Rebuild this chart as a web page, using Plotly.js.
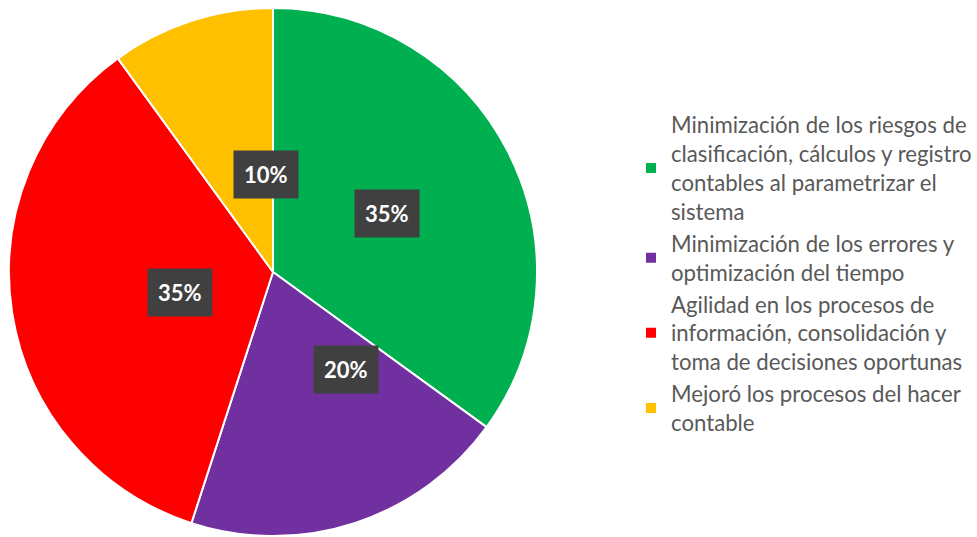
<!DOCTYPE html>
<html>
<head>
<meta charset="utf-8">
<script src="https://cdn.plot.ly/plotly-3.0.1.min.js"></script>
<style>html,body{margin:0;padding:0;background:#fff;}#chart{width:977px;height:537px;}</style>
</head>
<body>
<div id="chart"></div>
<script>
const categories = [
  "Minimización de los riesgos de<br>clasificación, cálculos y registro<br>contables al parametrizar el<br>sistema",
  "Minimización de los errores y<br>optimización del tiempo",
  "Agilidad en los procesos de<br>información, consolidación y<br>toma de decisiones oportunas",
  "Mejoró los procesos del hacer<br>contable"
];
const values = [35, 20, 35, 10];
const labelsText = ["35%", "20%", "35%", "10%"];
const colors = ["#00B050", "#7030A0", "#FF0000", "#FFC000"];

const W = 977, H = 537;
const cx = 273, cy = 272, R = 264;
const domX = [(cx - R) / W, (cx + R) / W];
const domY = [(H - cy - R) / H, (H - cy + R) / H];

const total = values.reduce((a, b) => a + b, 0);
let cum = 0;
const annotations = values.map((v, i) => {
  const mid = (cum + v / 2) / total * 2 * Math.PI;
  cum += v;
  const d = 0.485 * R;
  const px = cx + d * Math.sin(mid);
  const py = cy - d * Math.cos(mid);
  return {
    x: px / W, y: 1 - py / H, xref: "paper", yref: "paper",
    text: "<b>" + labelsText[i] + "</b>", showarrow: false,
    font: {family: "Lato, 'Open Sans', sans-serif", size: 22, color: "#ffffff"},
    bgcolor: "#404040", borderpad: 10
  };
});

const data = [{
  type: "pie",
  labels: categories,
  values: values,
  sort: false,
  direction: "clockwise",
  rotation: 0,
  marker: {colors: colors, line: {color: "#ffffff", width: 2}},
  textinfo: "none",
  domain: {x: domX, y: domY},
  hoverinfo: "label+percent"
}];

const layout = {
  width: W, height: H,
  margin: {l: 0, r: 0, t: 0, b: 0},
  paper_bgcolor: "#ffffff",
  showlegend: true,
  legend: {
    x: 631 / W, xanchor: "left",
    y: 0.49, yanchor: "middle",
    font: {family: "Lato, 'Open Sans', sans-serif", size: 22.2, color: "#595959"},
    bgcolor: "rgba(0,0,0,0)"
  },
  annotations: annotations
};

Plotly.newPlot("chart", data, layout, {displayModeBar: false, staticPlot: true});
</script>
</body>
</html>
